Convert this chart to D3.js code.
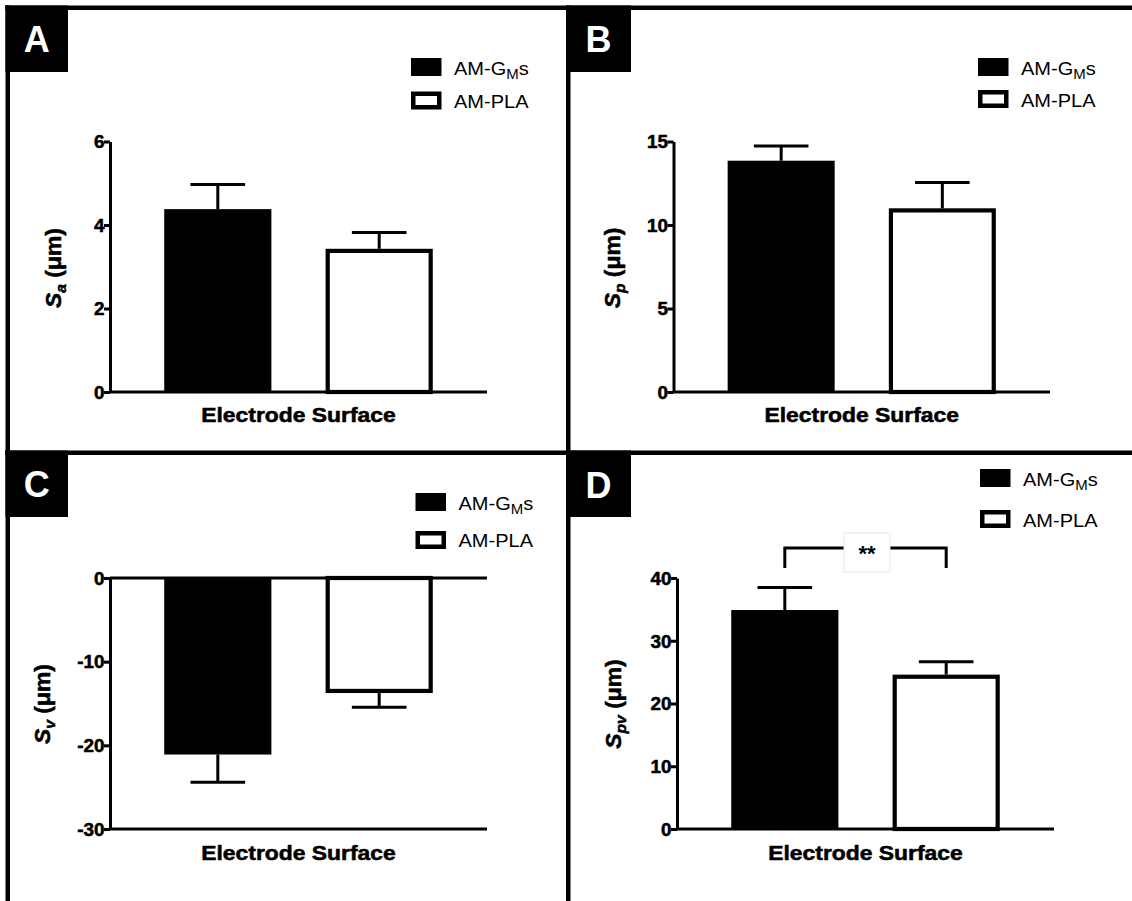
<!DOCTYPE html>
<html><head><meta charset="utf-8">
<script src="https://cdn.jsdelivr.net/npm/d3@7"></script>
<style>body{margin:0;background:#fff;} svg{display:block;}</style>
</head><body><svg id="c" width="1132" height="901"></svg>
<script>
// ---------------- data ----------------
const categories = ["AM-GMs", "AM-PLA"];
const saMean  = [4.38, 3.43];   const saErr  = [0.59, 0.39];
const spMean  = [13.85, 11.0];  const spErr  = [0.88, 1.55];
const svMean  = [-21.1, -13.75];const svErr  = [3.3, 1.7];
const spvMean = [34.9, 24.6];   const spvErr = [3.6, 2.05];
const saTicks  = [0, 2, 4, 6];
const spTicks  = [0, 5, 10, 15];
const svTicks  = [-30, -20, -10, 0];
const spvTicks = [0, 10, 20, 30, 40];
const saDomain = [0, 6], spDomain = [0, 15], svDomain = [-30, 0], spvDomain = [0, 40];
const xTitle = "Electrode Surface";
const spvSignificance = {from: 0, to: 1, label: "**", lineAt: 44.8, legTo: 41.6};

// ---------------- setup ----------------
const FONT = "'Liberation Sans', Arial, Helvetica, sans-serif";
const svg = d3.select("#c");
svg.append("rect").attr("width", 1132).attr("height", 901).attr("fill", "#fff");

// frame lines
const frame = svg.append("g");
[[5, 5.5, 1127, 4.5], [5.5, 5.5, 4.5, 895.5], [566, 5.5, 4.5, 895.5], [5, 450.5, 1127, 4.5]]
  .forEach(([x, y, w, h]) => frame.append("rect").attr("x", x).attr("y", y).attr("width", w).attr("height", h).attr("fill", "#000"));

const panels = [
  {letter: "A", box: [5.5, 5.5, 62.5, 66.5], ly: 52, x: [110, 487], y: [392, 141.5],
   domain: saDomain, ticks: saTicks, mean: saMean, err: saErr, sub: "a",
   yl: [61, 268], xtY: 422, extraBottom: false,
   leg: {x: 411, y1: 58, y2: 91.5, t1: 75, t2: 107.5}},
  {letter: "B", box: [566, 5.5, 65, 66.5], ly: 52, x: [673.5, 1050], y: [392, 141.5],
   domain: spDomain, ticks: spTicks, mean: spMean, err: spErr, sub: "p",
   yl: [619.5, 268], xtY: 422, extraBottom: false,
   leg: {x: 978, y1: 58, y2: 90, t1: 74.5, t2: 106.5}},
  {letter: "C", box: [5.5, 450.5, 62.5, 66.5], ly: 497, x: [110, 487], y: [829, 578],
   domain: svDomain, ticks: svTicks, mean: svMean, err: svErr, sub: "v",
   yl: [50, 704], xtY: 859.5, extraBottom: true,
   leg: {x: 415.5, y1: 493, y2: 531, t1: 510, t2: 547}},
  {letter: "D", box: [566, 450.5, 65, 66.5], ly: 498, x: [677, 1054], y: [829, 578],
   domain: spvDomain, ticks: spvTicks, mean: spvMean, err: spvErr, sub: "pv",
   yl: [621, 704], xtY: 859.5, extraBottom: false, sig: spvSignificance,
   leg: {x: 980, y1: 469, y2: 510, t1: 485.5, t2: 526.5}}
];

// embolden helper (thin outline of same colour to mimic heavier glyphs)
const heavy = (sel, c = "#000", w = 0.55) => sel.attr("stroke", c).attr("stroke-width", w).attr("stroke-linejoin", "round");

panels.forEach(p => {
  const g = svg.append("g");
  // letter box
  g.append("rect").attr("x", p.box[0]).attr("y", p.box[1]).attr("width", p.box[2]).attr("height", p.box[3]).attr("fill", "#000");
  g.append("text").attr("x", p.box[0] + p.box[2] / 2).attr("y", p.ly)
    .attr("text-anchor", "middle").attr("font-family", FONT).attr("font-weight", "bold")
    .attr("font-size", 36).attr("fill", "#fff").text(p.letter);

  const xs = d3.scaleBand().domain(categories).range(p.x).padding(0.336);
  const ys = d3.scaleLinear().domain(p.domain).range(p.y);
  const bw = xs.bandwidth();

  // bars
  categories.forEach((c, i) => {
    const v = p.mean[i];
    const y0 = ys(0), yv = ys(v);
    const top = Math.min(y0, yv), h = Math.abs(yv - y0);
    const filled = i === 0;
    const e = v >= 0 ? v + p.err[i] : v - p.err[i];
    const cx = xs(c) + bw / 2;
    g.append("line").attr("x1", cx).attr("x2", cx).attr("y1", yv).attr("y2", ys(e))
      .attr("stroke", "#000").attr("stroke-width", 3);
    g.append("line").attr("x1", cx - bw * 0.255).attr("x2", cx + bw * 0.255).attr("y1", ys(e)).attr("y2", ys(e))
      .attr("stroke", "#000").attr("stroke-width", 3);
    if (filled) {
      g.append("rect").attr("x", xs(c)).attr("y", top).attr("width", bw).attr("height", h).attr("fill", "#000");
    } else {
      const sw = 4.2;
      const negative = v < 0;
      g.append("rect").attr("x", xs(c) + sw / 2)
        .attr("y", negative ? top : top + sw / 2)
        .attr("width", bw - sw).attr("height", h - sw / 2)
        .attr("fill", "#fff").attr("stroke", "#000").attr("stroke-width", sw);
    }
  });

  // y axis
  const ax = g.append("g").attr("transform", `translate(${p.x[0]},0)`)
    .call(d3.axisLeft(ys).tickValues(p.ticks).tickSize(6).tickSizeOuter(0).tickFormat(d => String(d)));
  ax.select(".domain").attr("stroke", "#000").attr("stroke-width", 3);
  ax.selectAll(".tick line").attr("stroke", "#000").attr("stroke-width", 3);
  heavy(ax.selectAll(".tick text").attr("x", null).attr("dy", null)
    .attr("transform", `translate(-5.5,6.3) scale(1.08,1)`)
    .attr("font-family", FONT).attr("font-weight", "bold").attr("font-size", 17.5).attr("fill", "#000")
    .attr("text-anchor", "end"), "#000", 0.5);

  // horizontal axis line(s)
  const hl = [0];
  if (p.extraBottom) hl.push(p.domain[0]);
  hl.forEach(v => g.append("line").attr("x1", p.x[0]).attr("x2", p.x[1]).attr("y1", ys(v)).attr("y2", ys(v))
    .attr("stroke", "#000").attr("stroke-width", 3));

  // x title
  heavy(g.append("text").attr("transform", `translate(${(p.x[0] + p.x[1]) / 2},${p.xtY}) scale(1.1,1)`)
    .attr("text-anchor", "middle").attr("font-family", FONT).attr("font-weight", "bold")
    .attr("font-size", 20.8).attr("fill", "#000").text(xTitle));

  // y title
  const yt = heavy(g.append("text").attr("transform", `translate(${p.yl[0]},${p.yl[1]}) rotate(-90) scale(1.04,1)`)
    .attr("text-anchor", "middle").attr("font-family", FONT).attr("font-weight", "bold")
    .attr("font-size", 22).attr("fill", "#000"));
  yt.append("tspan").attr("font-style", "italic").text("S");
  yt.append("tspan").attr("font-style", "italic").attr("font-size", 15).attr("dy", 5).text(p.sub);
  yt.append("tspan").attr("dy", -5).text(" (μm)");

  // legend
  const L = p.leg;
  g.append("rect").attr("x", L.x).attr("y", L.y1).attr("width", 30.5).attr("height", 18).attr("fill", "#000");
  g.append("rect").attr("x", L.x + 2.25).attr("y", L.y2 + 2.25).attr("width", 26).attr("height", 13.5)
    .attr("fill", "#fff").attr("stroke", "#000").attr("stroke-width", 4.5);
  const t1 = g.append("text").attr("transform", `translate(${L.x + 43},${L.t1}) scale(1.07,1)`)
    .attr("font-family", FONT).attr("font-size", 18.7).attr("fill", "#000");
  t1.append("tspan").text("AM-G");
  t1.append("tspan").attr("font-size", 14).attr("dy", 4).text("M");
  t1.append("tspan").attr("dy", -4).text("s");
  g.append("text").attr("transform", `translate(${L.x + 43},${L.t2}) scale(1.07,1)`)
    .attr("font-family", FONT).attr("font-size", 18.7).attr("fill", "#000").text(categories[1]);

  // significance
  if (p.sig) {
    const s = p.sig;
    const xa = xs(categories[s.from]) + bw / 2, xb = xs(categories[s.to]) + bw / 2;
    const yl = ys(s.lineAt), yb = ys(s.legTo);
    g.append("path").attr("d", `M${xa},${yb}V${yl}H${xb}V${yb}`)
      .attr("fill", "none").attr("stroke", "#000").attr("stroke-width", 3);
    const mx = (xa + xb) / 2 + 1.5;
    g.append("rect").attr("x", mx - 23).attr("y", yl - 15).attr("width", 46).attr("height", 39)
      .attr("fill", "#fff").attr("stroke", "#e8e8e8").attr("stroke-width", 1);
    g.append("text").attr("x", mx).attr("y", yl + 13).attr("text-anchor", "middle")
      .attr("font-family", FONT).attr("font-weight", "bold").attr("font-size", 22).attr("fill", "#000").text(s.label);
  }
});
</script>
</body></html>
